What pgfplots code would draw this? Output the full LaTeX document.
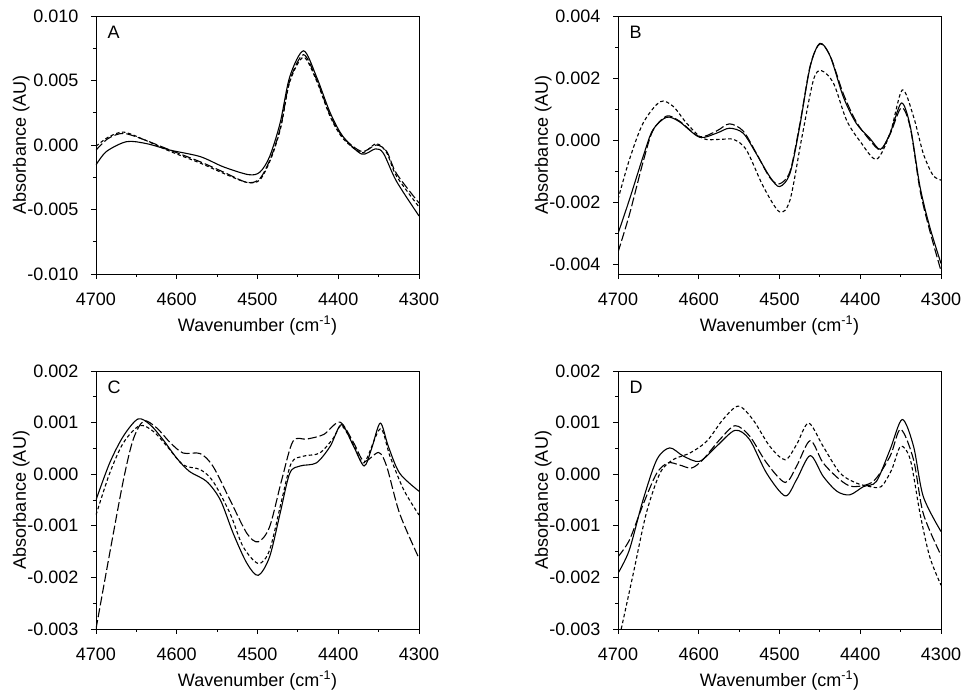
\documentclass[border=0pt]{standalone}
\usepackage{fontspec}
\setmainfont{Liberation Sans}
\usepackage{pgfplots}
\pgfplotsset{compat=1.18}
\pgfplotsset{
  panel/.style={
    scale only axis, width=323pt, height=258pt, anchor=south west,
    xmin=4300, xmax=4700, x dir=reverse,
    xtick={4300,4400,...,4700}, minor x tick num=1, minor y tick num=1,
    tick align=outside, xtick pos=left, ytick pos=left,
    major tick length=5pt, minor tick length=3pt,
    tick style={line width=0.8pt, black},
    axis line style={line width=0.8pt},
    scaled y ticks=false,
    /pgf/number format/assume math mode=true,
    yticklabel style={xshift=-9pt, /pgf/number format/fixed, /pgf/number format/fixed zerofill, /pgf/number format/precision=3},
    xticklabel style={yshift=-10pt, /pgf/number format/1000 sep={}},
    xlabel={Wavenumber (cm\textsuperscript{-1})},
    ylabel={Absorbance (AU)},
    every axis plot/.append style={line width=1.1pt, smooth, tension=0.5, mark=none, black},
    font=\fontsize{18}{21}\selectfont,
    xlabel style={yshift=-4pt},
    ylabel style={yshift=-9pt},
  },
  ld/.style={dash pattern=on 9pt off 3pt},
  sd/.style={dash pattern=on 3.5pt off 2.5pt},
}
\begin{document}
\begin{tikzpicture}
\useasboundingbox (0,0) rectangle (963pt,690pt);
% Panel A
\begin{axis}[panel, at={(96pt,416pt)}, ymin=-0.01, ymax=0.01, ytick={-0.01,-0.005,...,0.011}]
\addplot[solid] table {
4700 -0.00155
4687 -0.0005
4662 0.00026
4637 0.0001
4608 -0.0004
4571 -0.0009
4542 -0.0017
4511 -0.0023
4497 -0.0021
4485 -0.0009
4472 0.0017
4460 0.0053
4443 0.0073
4427 0.0053
4410 0.0025
4394 0.00065
4371 -0.0007
4354 -0.0003
4344 -0.00065
4328 -0.0028
4300 -0.0055
};
\addplot[ld] table {
4700 -0.0004
4685 0.0005
4666 0.0009
4640 0.0004
4608 -0.0004
4571 -0.0013
4542 -0.0021
4513 -0.0029
4497 -0.0026
4483 -0.0009
4471 0.0015
4460 0.0050
4443 0.0070
4427 0.0051
4410 0.0023
4394 0.0006
4371 -0.0005
4353 0.0000
4340 -0.0005
4328 -0.0022
4300 -0.0045
};
\addplot[sd] table {
4700 -0.0001
4685 0.0006
4666 0.0010
4640 0.0004
4608 -0.0005
4571 -0.0014
4542 -0.0022
4513 -0.0029
4497 -0.0027
4483 -0.0010
4471 0.0014
4460 0.0049
4443 0.0068
4427 0.0050
4410 0.0022
4394 0.0005
4371 -0.0006
4353 0.0001
4340 -0.0006
4328 -0.0024
4300 -0.0048
};
\node[anchor=north west, font=\fontsize{18}{21}\selectfont] at (rel axis cs:0.025,0.975) {A};
\end{axis}
% Panel B
\begin{axis}[panel, at={(618pt,416pt)}, ymin=-0.0043, ymax=0.004, ytick={-0.004,-0.002,...,0.0041}]
\addplot[solid] table {
4700 -0.0030
4686 -0.00192
4669 -0.00053
4657 0.00033
4640 0.00074
4624 0.0006
4599 0.0001
4578 0.00023
4562 0.00039
4545 0.00023
4529 -0.00042
4512 -0.00117
4500 -0.00149
4487 -0.00106
4475 0.00044
4462 0.00237
4450 0.00312
4437 0.00269
4421 0.0014
4405 0.00055
4388 0.00006
4375 -0.00029
4363 0.00023
4349 0.0012
4338 0.00044
4326 -0.00149
4314 -0.00278
4300 -0.00396
};
\addplot[ld] table {
4700 -0.0036
4686 -0.0024
4669 -0.0007
4657 0.0003
4640 0.00078
4624 0.00062
4599 0.00012
4578 0.0003
4562 0.00053
4545 0.0003
4529 -0.0004
4512 -0.0012
4500 -0.0014
4487 -0.0010
4475 0.0005
4462 0.0024
4450 0.0031
4437 0.0027
4421 0.0015
4405 0.0006
4388 0.0000
4375 -0.0003
4363 0.0002
4349 0.00105
4338 0.0004
4326 -0.0016
4314 -0.0029
4300 -0.0042
};
\addplot[sd] table {
4700 -0.0019
4686 -0.00063
4669 0.00055
4648 0.00124
4632 0.0011
4615 0.00055
4595 0.00006
4574 0.00003
4557 0.00003
4541 -0.00031
4520 -0.00149
4500 -0.0023
4487 -0.00192
4473 0.0
4458 0.00194
4448 0.00224
4433 0.00183
4417 0.00065
4400 -0.00004
4380 -0.00061
4363 0.00023
4348 0.00162
4334 0.00076
4322 -0.00042
4310 -0.00112
4300 -0.00128
};
\node[anchor=north west, font=\fontsize{18}{21}\selectfont] at (rel axis cs:0.025,0.975) {B};
\end{axis}
% Panel C
\begin{axis}[panel, at={(96pt,61pt)}, ymin=-0.003, ymax=0.002, ytick={-0.003,-0.002,...,0.0021}]
\addplot[solid] table {
4700 -0.0005
4683 0.00022
4666 0.00074
4648 0.00107
4633 0.00096
4617 0.00067
4600 0.00031
4584 0.00005
4563 -0.00014
4546 -0.0005
4530 -0.00115
4513 -0.00173
4499 -0.00196
4485 -0.0016
4472 -0.00076
4460 0.00002
4447 0.00016
4427 0.00022
4410 0.00054
4396 0.00096
4381 0.00054
4368 0.00016
4359 0.00048
4348 0.00099
4338 0.00054
4324 0.00002
4300 -0.00033
};
\addplot[ld] table {
4700 -0.003
4683 -0.00153
4666 -0.00011
4654 0.00067
4641 0.00103
4625 0.0009
4608 0.00061
4592 0.00041
4571 0.0004
4555 0.00015
4534 -0.0005
4513 -0.00115
4499 -0.00131
4485 -0.00102
4470 -0.00011
4456 0.00064
4439 0.00068
4418 0.00077
4398 0.00101
4381 0.00061
4368 0.00025
4350 0.00042
4340 0.00015
4324 -0.00076
4300 -0.00163
};
\addplot[sd] table {
4700 -0.00079
4683 0.00002
4666 0.00061
4646 0.00094
4629 0.00083
4612 0.00054
4592 0.00018
4571 0.00009
4555 -0.00014
4534 -0.00076
4518 -0.0014
4499 -0.00173
4485 -0.00147
4470 -0.0005
4458 0.00022
4443 0.00035
4423 0.00041
4406 0.0007
4396 0.00094
4381 0.00057
4368 0.00022
4348 0.00088
4336 0.00035
4319 -0.0003
4300 -0.00079
};
\node[anchor=north west, font=\fontsize{18}{21}\selectfont] at (rel axis cs:0.025,0.975) {C};
\end{axis}
% Panel D
\begin{axis}[panel, at={(618pt,61pt)}, ymin=-0.003, ymax=0.002, ytick={-0.003,-0.002,...,0.0021}]
\addplot[solid] table {
4700 -0.00192
4686 -0.00147
4669 -0.0005
4652 0.00028
4636 0.00051
4619 0.00035
4599 0.00025
4578 0.00054
4555 0.00085
4537 0.00067
4516 0.00002
4493 -0.00042
4479 -0.00011
4462 0.00036
4446 -0.00004
4429 -0.00033
4413 -0.0004
4396 -0.00024
4380 -0.00014
4363 0.00048
4348 0.00106
4334 0.00054
4322 -0.00043
4300 -0.00111
};
\addplot[ld] table {
4700 -0.0016
4686 -0.00128
4669 -0.00059
4652 0.00002
4638 0.00022
4624 0.00018
4609 0.00012
4595 0.00028
4574 0.00067
4555 0.00094
4537 0.00074
4516 0.00022
4493 -0.00016
4479 0.00015
4462 0.00065
4446 0.00022
4425 -0.00011
4409 -0.00024
4384 -0.00014
4363 0.00035
4350 0.00087
4334 0.00028
4322 -0.00076
4300 -0.00157
};
\addplot[sd] table {
4696 -0.003
4681 -0.00192
4665 -0.00076
4648 0.00002
4632 0.00028
4611 0.00041
4590 0.00064
4570 0.00106
4551 0.00132
4533 0.00106
4512 0.00054
4493 0.00028
4479 0.00057
4464 0.00099
4446 0.00054
4425 0.00002
4405 -0.00017
4388 -0.00024
4374 -0.00024
4361 0.00009
4350 0.00054
4338 0.00028
4326 -0.00076
4314 -0.0016
4300 -0.00215
};
\node[anchor=north west, font=\fontsize{18}{21}\selectfont] at (rel axis cs:0.025,0.975) {D};
\end{axis}
\end{tikzpicture}
\end{document}
